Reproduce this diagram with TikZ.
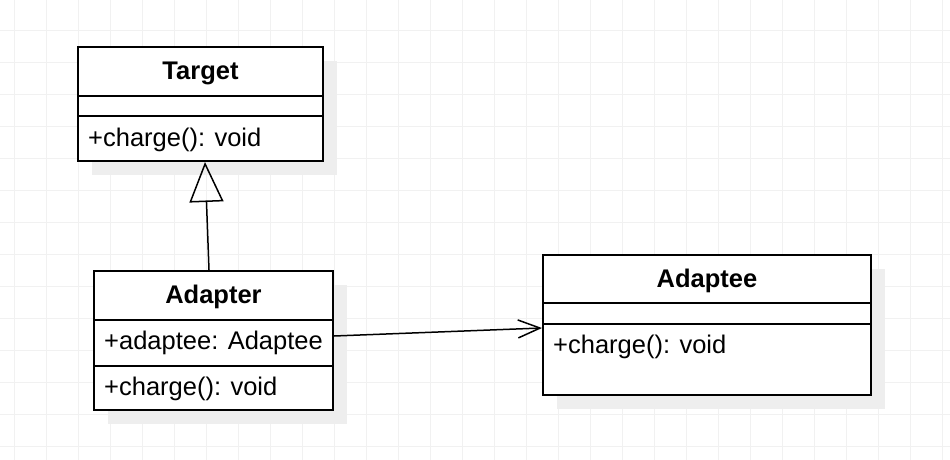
\documentclass[tikz,border=0pt]{standalone}
\usepackage{fontspec}
\setmainfont{Liberation Sans}
\usetikzlibrary{calc,positioning,arrows.meta,shadows}
\definecolor{gridgray}{HTML}{F1F1F1}
\definecolor{shadowgray}{HTML}{EEEEEE}
\newcommand{\umlfont}{\fontsize{25.5}{30}\selectfont}
\tikzset{
  classbox/.style={draw,line width=2pt,fill=white,rectangle,inner sep=0pt,anchor=north west,
    drop shadow={shadow xshift=14pt,shadow yshift=-14pt,fill=shadowgray,opacity=1}},
  divider/.style={line width=2pt},
  classname/.style={anchor=base,inner sep=0pt,font=\umlfont\bfseries},
  member/.style={anchor=base west,inner sep=0pt,font=\umlfont},
  link/.style={line width=1.5pt},
}

\begin{document}
\begin{tikzpicture}[x=1pt,y=-1pt]
\useasboundingbox (0,0) rectangle (950,460);
\fill[white] (0,0) rectangle (950,460);
\foreach \gx in {14.7,46.7,...,942.7} \draw[gridgray,line width=1pt] (\gx,0) -- (\gx,460);
\foreach \gy in {30.3,62.3,...,446.3} \draw[gridgray,line width=1pt] (0,\gy) -- (950,\gy);

% classes
\node [classbox,minimum width=245,minimum height=114] (target) at (77,46) {};
\node [classbox,minimum width=239,minimum height=139] (adapter) at (93,270) {};
\node [classbox,minimum width=328,minimum height=140] (adaptee) at (542,254) {};

\draw [divider] ($(target.north west) + (0,50)$) -- ($(target.north east) + (0,50)$);
\draw [divider] ($(target.north west) + (0,70)$) -- ($(target.north east) + (0,70)$);
\draw [divider] ($(adapter.north west) + (0,50)$) -- ($(adapter.north east) + (0,50)$);
\draw [divider] ($(adapter.north west) + (0,96)$) -- ($(adapter.north east) + (0,96)$);
\draw [divider] ($(adaptee.north west) + (0,49)$) -- ($(adaptee.north east) + (0,49)$);
\draw [divider] ($(adaptee.north west) + (0,70)$) -- ($(adaptee.north east) + (0,70)$);

\node [classname] (targetname) at ($(target.north) + (0,34)$) {Target};
\node [member] (targetop) at ($(target.north west) + (11,100)$) {+charge(): void};

\node [classname] (adaptername) at ($(adapter.north) + (0,33)$) {Adapter};
\node [member] (adapterattr) at ($(adapter.north west) + (11,79)$) {+adaptee: Adaptee};
\node [member] (adapterop) at ($(adapter.north west) + (11,125)$) {+charge(): void};

\node [classname] (adapteename) at ($(adaptee.north) + (0,33)$) {Adaptee};
\node [member] (adapteeop) at ($(adaptee.north west) + (11,99)$) {+charge(): void};

% relations
\draw [link,-{Triangle[open,length=40pt,width=34pt,line width=1.5pt]}] ($(adapter.north) + (-4.5,0)$) -- ($(target.south) + (4.5,0)$);
\draw [link,-{Straight Barb[length=22pt,width=18pt,line width=1.5pt]}] ($(adapter.north east) + (0,66)$) -- ($(adaptee.north west) + (0,74)$);
\end{tikzpicture}
\end{document}
